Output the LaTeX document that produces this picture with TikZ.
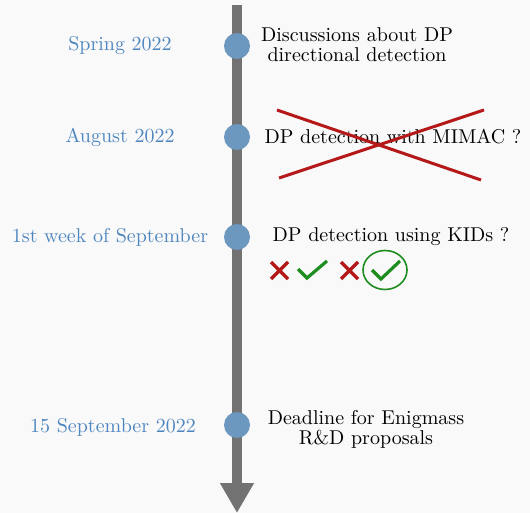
\documentclass[tikz,border=0pt]{standalone}
\usetikzlibrary{arrows.meta,shapes.geometric}
\definecolor{bgcol}{HTML}{F9F9F9}
\definecolor{axiscol}{HTML}{727272}
\definecolor{dotcol}{HTML}{6C97BF}
\definecolor{datecol}{HTML}{4F86BF}
\definecolor{nocol}{HTML}{B41818}
\definecolor{yescol}{HTML}{1E8C1E}

\begin{document}
\begin{tikzpicture}[x=0.5pt,y=-0.5pt,
    dot/.style={circle,fill=dotcol,inner sep=0pt,minimum size=13pt},
    date/.style={text=datecol},
    event/.style={align=center,text=black}]
  \fill[bgcol] (0,0) rectangle (530,513);
  \useasboundingbox (0,0) rectangle (530,513);
  % time axis
  \coordinate (top) at (237,5);
  \coordinate (bot) at (237,513);
  \draw[axiscol,line width=5pt,-{Triangle[width=16pt,length=15pt]}] (top) -- (bot);
  % milestones
  \node[dot] (d1) at (237,46) {};
  \node[dot] (d2) at (237,137) {};
  \node[dot] (d3) at (237,237) {};
  \node[dot] (d4) at (237,425) {};
  \node[date] (t1) at (120,46) {Spring 2022};
  \node[date] (t2) at (120,137) {August 2022};
  \node[date] (t3) at (110,237) {1st week of September};
  \node[date] (t4) at (113,427) {15 September 2022};
  \node[event] (e1) at (357,45) {Discussions about DP\\[-2pt]directional detection};
  \node[event] (e2) at (393,137) {DP detection with MIMAC ?};
  \node[event] (e3) at (391,237) {DP detection using KIDs ?};
  \node[event] (e4) at (366,429) {Deadline for Enigmass\\[-2pt]R\&D proposals};
  % crossed out
  \draw[nocol,line width=1.5pt] (277,110) -- (481,180);
  \draw[nocol,line width=1.5pt] (279,178) -- (484,110);
  % yes / no marks
  \draw[nocol,line width=1.6pt] (271,262) -- (288,279) (271,279) -- (288,262);
  \draw[yescol,line width=1.6pt] (298,269) -- (307,278) -- (327,261);
  \draw[nocol,line width=1.6pt] (341,262) -- (358,279) (341,279) -- (358,262);
  \draw[yescol,line width=1.6pt] (372,270) -- (381,279) -- (400,261);
  \node[draw=yescol,line width=0.8pt,ellipse,minimum width=22pt,minimum height=19.5pt,inner sep=0pt] (ok) at (385,270) {};
\end{tikzpicture}
\end{document}
